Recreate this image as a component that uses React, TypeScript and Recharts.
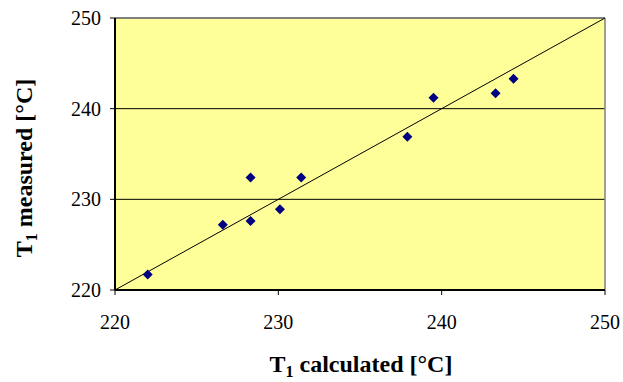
import React from 'react';
import {
  ScatterChart,
  Scatter,
  XAxis,
  YAxis,
  CartesianGrid,
  ReferenceLine,
  Label,
} from 'recharts';

// values
const calculated = [222.0, 226.6, 228.3, 228.3, 230.1, 231.4, 237.9, 239.5, 243.3, 244.4];
const measured = [221.7, 227.2, 232.4, 227.6, 228.9, 232.4, 236.9, 241.2, 241.7, 243.3];
const axisTicks = [220, 230, 240, 250];
const diagonal = [
  { x: 220, y: 220 },
  { x: 250, y: 250 },
];

const points = calculated.map((c, i) => ({ x: c, y: measured[i] }));

const FONT = "'Liberation Serif', 'DejaVu Serif', 'Times New Roman', Times, serif";

const Diamond = (props: any) => {
  const { cx, cy } = props;
  const r = 5;
  return (
    <path
      d={`M${cx},${cy - r}L${cx + r},${cy}L${cx},${cy + r}L${cx - r},${cy}Z`}
      fill="#000080"
    />
  );
};

const titleStyle = { fontFamily: FONT, fontWeight: 'bold' as const, fontSize: 24 };

const XTitle = () => (
  <text x={361} y={372} textAnchor="middle" style={titleStyle} fill="#000">
    T<tspan fontSize={16} dy={5}>1</tspan>
    <tspan dy={-5}> calculated [°C]</tspan>
  </text>
);

const YTitle = () => (
  <text
    x={0}
    y={0}
    transform="translate(32,168) rotate(-90)"
    textAnchor="middle"
    style={titleStyle}
    fill="#000"
  >
    T<tspan fontSize={16} dy={5}>1</tspan>
    <tspan dy={-5}> measured [°C]</tspan>
  </text>
);

const App: React.FC = () => {
  const tickStyle = { fill: '#000', fontFamily: FONT, fontSize: 20, style: { fontFamily: FONT, fontSize: 20 } };
  return (
    <div style={{ position: 'absolute', left: 0, top: 0, background: '#fff', fontFamily: FONT }}>
      <ScatterChart
        width={623}
        height={382}
        margin={{ top: 18, right: 18, bottom: 0, left: 0 }}
        style={{ fontFamily: FONT }}
      >
        <CartesianGrid vertical={false} stroke="#000" fill="#FFFF99" />
        <XAxis
          type="number"
          dataKey="x"
          domain={[220, 250]}
          ticks={axisTicks}
          height={92}
          tickSize={5}
          tickMargin={20}
          tick={tickStyle}
          axisLine={{ stroke: '#000', strokeWidth: 2 }}
          tickLine={{ stroke: '#000' }}
        >
          <Label content={() => <XTitle />} />
        </XAxis>
        <YAxis
          type="number"
          dataKey="y"
          domain={[220, 250]}
          ticks={axisTicks}
          width={115}
          tickSize={5}
          tickMargin={9}
          tick={tickStyle}
          axisLine={{ stroke: '#000', strokeWidth: 2 }}
          tickLine={{ stroke: '#000' }}
        >
          <Label content={() => <YTitle />} />
        </YAxis>
        <ReferenceLine y={250} stroke="#808080" strokeWidth={1.5} />
        <ReferenceLine x={250} stroke="#808080" strokeWidth={1.5} />
        <ReferenceLine segment={diagonal} stroke="#000" strokeWidth={1} />
        <Scatter data={points} shape={Diamond} isAnimationActive={false} />
      </ScatterChart>
    </div>
  );
};

export default App;
